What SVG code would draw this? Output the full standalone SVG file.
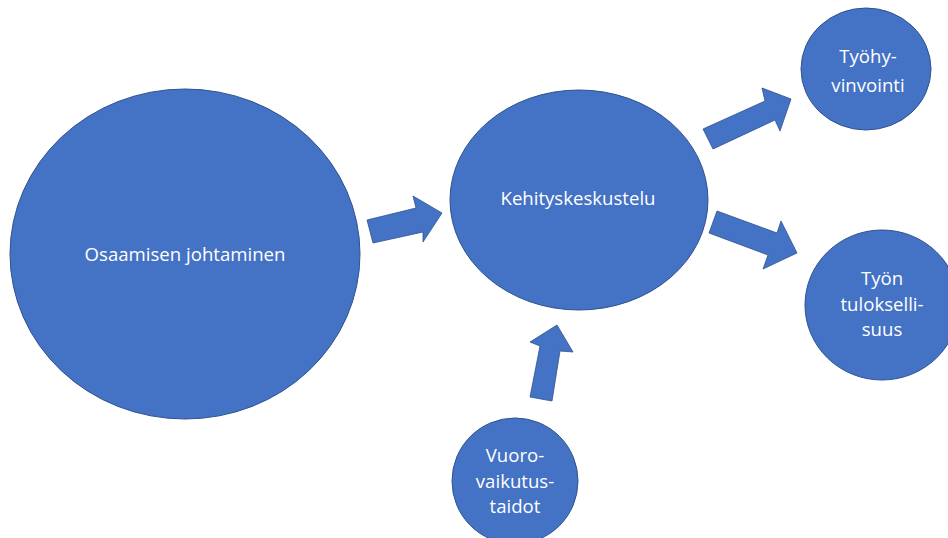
<svg xmlns="http://www.w3.org/2000/svg" width="948" height="538" viewBox="0 0 948 538">
<style>
.n{fill:#4472C4;stroke:#2F528F;stroke-width:1}
.a{fill:#4472C4;stroke:#2F528F;stroke-width:0.8}
.t{fill:#ffffff;font-family:"Open Sans","Liberation Sans",sans-serif;font-size:18.6px;text-anchor:middle}
</style>
<rect width="948" height="538" fill="#ffffff"/>
<g id="connectors">
<polygon class="a" points="367,220 416,208 413,196 442,213 423,242 423,232 373,243"/>
<polygon class="a" points="703,129 765,101 762,88 791,99 780,131 775,120 713,149"/>
<polygon class="a" points="717,211 777,233 781,221 797,253 763,269 768,255 709,233"/>
<polygon class="a" points="530,397 540,346 530,342 557,325 573,352 560,351 552,401"/>
</g>
<g id="osaamisen">
<ellipse class="n" cx="185" cy="254" rx="175" ry="165"/>
<text class="t" x="185" y="261">Osaamisen johtaminen</text>
</g>
<g id="kehitys">
<ellipse class="n" cx="579" cy="200" rx="129" ry="110"/>
<text class="t" x="578" y="205">Kehityskeskustelu</text>
</g>
<g id="tyohyvinvointi">
<ellipse class="n" cx="866" cy="69" rx="65" ry="61"/>
<text class="t" x="868" y="63">Työhy-</text>
<text class="t" x="868" y="92">vinvointi</text>
</g>
<g id="tuloksellisuus">
<ellipse class="n" cx="882" cy="305" rx="77" ry="75"/>
<text class="t" x="882" y="285">Työn</text>
<text class="t" x="882" y="311">tulokselli-</text>
<text class="t" x="882" y="336">suus</text>
</g>
<g id="vuorovaikutus">
<ellipse class="n" cx="515" cy="481" rx="63" ry="63"/>
<text class="t" x="515" y="462">Vuoro-</text>
<text class="t" x="515" y="488">vaikutus-</text>
<text class="t" x="515" y="513">taidot</text>
</g>
</svg>
